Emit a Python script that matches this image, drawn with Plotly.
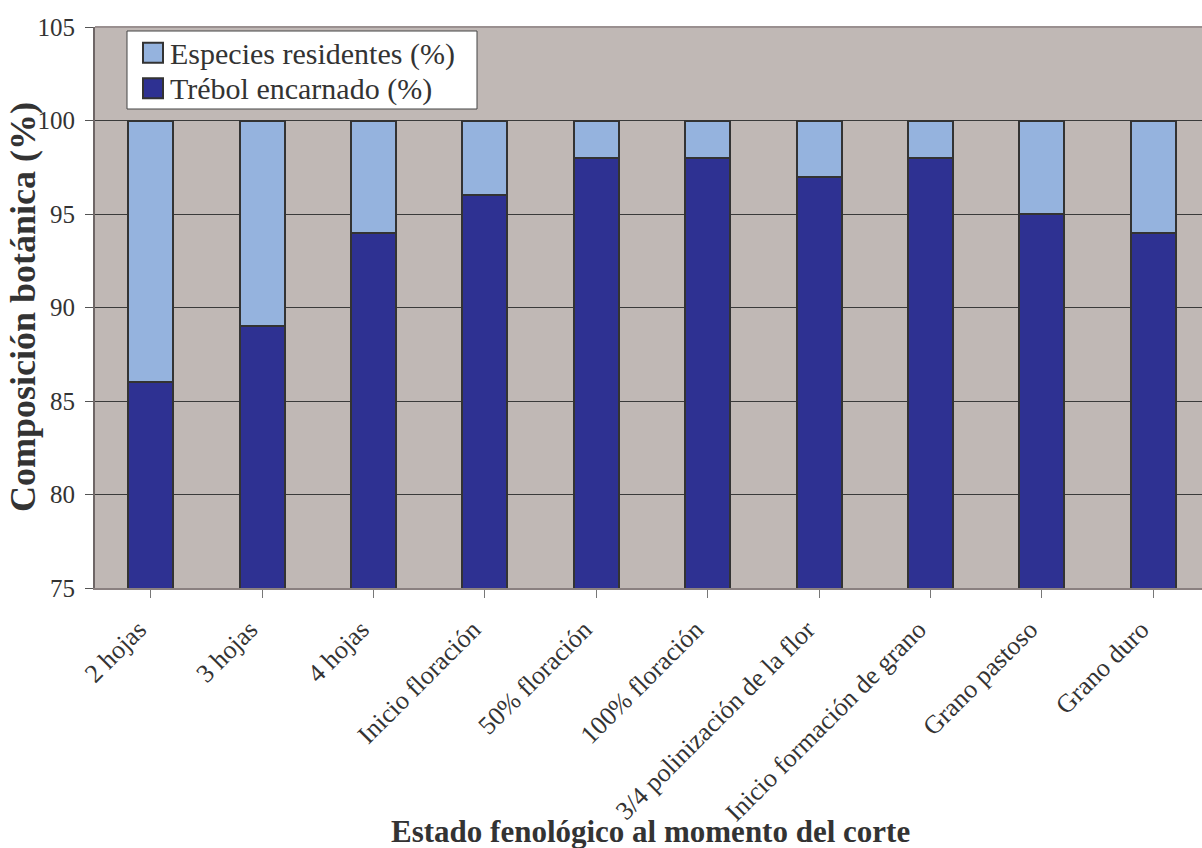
import plotly.graph_objects as go

# Phenological stage at cutting time
estados = [
    "2 hojas", "3 hojas", "4 hojas", "Inicio floración", "50% floración",
    "100% floración", "3/4 polinización de la flor", "Inicio formación de grano",
    "Grano pastoso", "Grano duro",
]
# Botanical composition (%)
trebol = [86, 89, 94, 96, 98, 98, 97, 98, 95, 94]
residentes = [14, 11, 6, 4, 2, 2, 3, 2, 5, 6]
series_names = ["Trébol encarnado (%)", "Especies residentes (%)"]
series_colors = ["#2E3192", "#95B3DE"]

FONT = "Liberation Serif"
TEXT = "#333333"
BG = "#C0B8B5"
OUTLINE = dict(color="#333333", width=2)

# Plot-area geometry in pixels (used to place the legend box)
W, H = 1202, 848
ML, MT, MB = 95, 27, 260
PW, PH = W - ML, H - MT - MB


def px_x(px):
    return (px - ML) / PW


def px_y(py):
    return (H - MB - py) / PH


fig = go.Figure()
for vals, name, col in zip([trebol, residentes], series_names, series_colors):
    fig.add_trace(go.Bar(
        x=estados, y=vals, name=name, showlegend=False,
        marker=dict(color=col, line=OUTLINE), width=0.405,
    ))

# Legend: white framed box with square swatches
fig.add_shape(
    type="rect", xref="paper", yref="paper",
    x0=px_x(127), x1=px_x(477), y0=px_y(109), y1=px_y(31),
    fillcolor="white", line=dict(color="#444444", width=1), layer="above",
)
for row, (name, col) in enumerate(reversed(list(zip(series_names, series_colors)))):
    cy = 52.7 + row * 35.5
    fig.add_shape(
        type="rect", xref="paper", yref="paper",
        x0=px_x(143), x1=px_x(163), y0=px_y(cy + 10), y1=px_y(cy - 10),
        fillcolor=col, line=dict(color="#333333", width=2), layer="above",
    )
    fig.add_annotation(
        text=name, xref="paper", yref="paper",
        x=px_x(168), y=px_y(cy + 1), xanchor="left", yanchor="middle",
        showarrow=False, font=dict(family=FONT, size=30, color=TEXT),
    )

fig.update_layout(
    width=W, height=H,
    margin=dict(l=ML, r=0, t=MT, b=MB),
    barmode="stack",
    paper_bgcolor="white",
    plot_bgcolor=BG,
    font=dict(family=FONT, size=25, color=TEXT),
    showlegend=False,
    xaxis=dict(
        type="category",
        range=[-0.5, 9.437],
        tickangle=-45,
        ticks="outside", ticklen=8, tickcolor="#777777",
        ticklabelshift=-12, ticklabelstandoff=6,
        showline=True, linecolor="#8A8080", linewidth=2,
        showgrid=False,
        tickfont=dict(family=FONT, size=26, color=TEXT),
    ),
    yaxis=dict(
        range=[75, 105],
        tickvals=[75, 80, 85, 90, 95, 100, 105],
        ticks="outside", ticklen=8, tickcolor="#555555",
        ticklabelstandoff=5,
        showline=True, linecolor="#6E6666", linewidth=2,
        showgrid=True, gridcolor="#3A3A3A", gridwidth=1,
        zeroline=False,
        tickfont=dict(family=FONT, size=25, color=TEXT),
    ),
)

# Axis titles
fig.add_annotation(
    text="<b>Composición botánica (%)</b>",
    xref="paper", yref="paper", x=px_x(23), y=px_y(307),
    xanchor="center", yanchor="middle", textangle=-90,
    showarrow=False, font=dict(family=FONT, size=36, color=TEXT),
)
fig.add_annotation(
    text="<b>Estado fenológico al momento del corte</b>",
    xref="paper", yref="paper", x=px_x(650), y=px_y(831),
    xanchor="center", yanchor="middle",
    showarrow=False, font=dict(family=FONT, size=31, color=TEXT),
)

# Gray frame along the top of the plotting area
fig.add_shape(
    type="line", xref="paper", yref="paper", x0=0, x1=1, y0=1, y1=1,
    line=dict(color="#9A9090", width=2),
)

fig.write_html("out.html")
